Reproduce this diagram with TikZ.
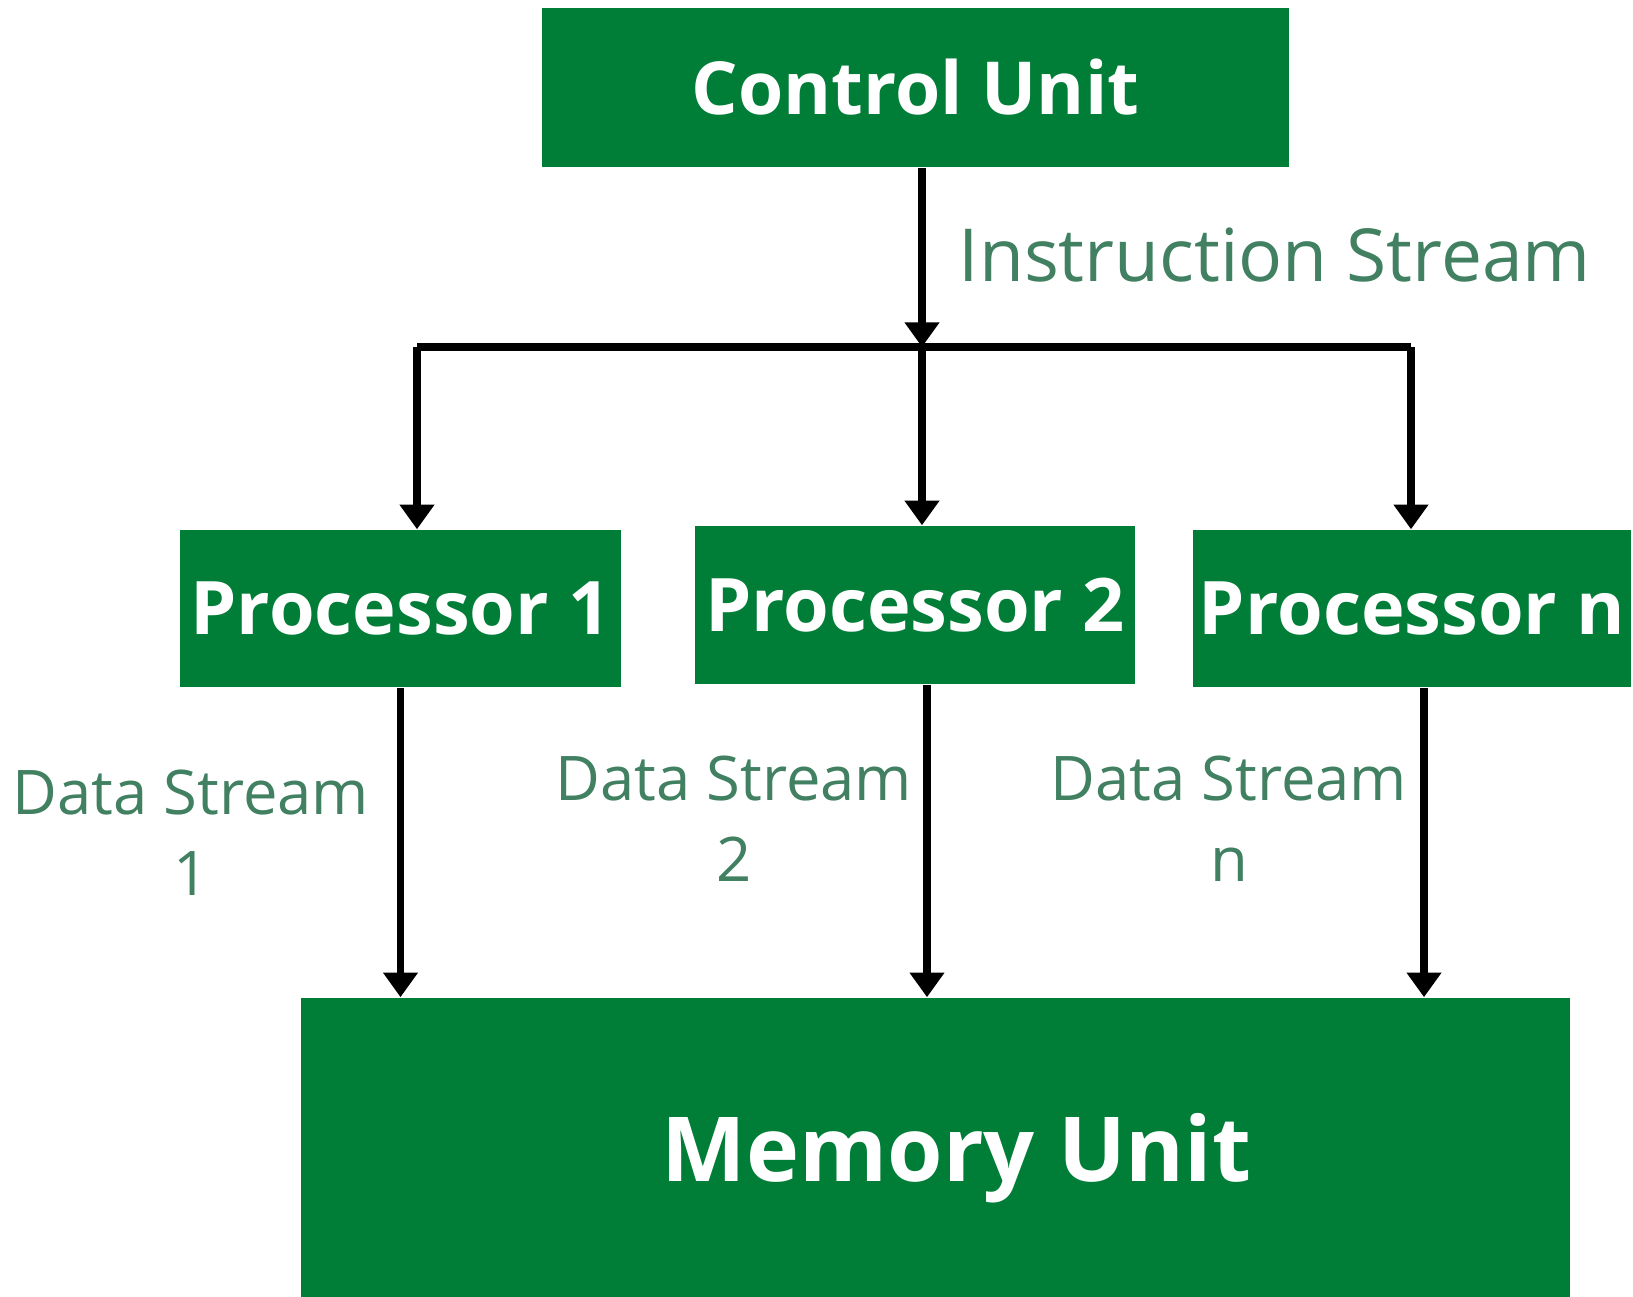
\documentclass[tikz,border=0pt]{standalone}
\usepackage{fontspec}
\setmainfont{Open Sans}
\usepackage{tikz}
\usetikzlibrary{arrows.meta}
\definecolor{unitgreen}{RGB}{0,125,55}
\definecolor{streamgreen}{RGB}{66,128,98}
\tikzset{%
    unitbox/.style={%
        draw=none, fill=unitgreen, text=white, inner sep=0pt,
        font=\bfseries\fontsize{21}{25}\selectfont
    },
    streamlabel/.style={%
        text=streamgreen, inner sep=0pt, align=center,
        font=\fontsize{17.5}{23}\selectfont
    },
    flow/.style={%
        line width=2.1pt, -{Triangle[width=9.5pt,length=7pt]}
    }
}

\begin{document}
\begin{tikzpicture}[x=0.01cm,y=-0.01cm]
    \useasboundingbox (0,0) rectangle (1633,1296);
    \node[unitbox, minimum width=7.47cm, minimum height=1.59cm,
        font=\bfseries\fontsize{20.8}{24}\selectfont] (cu) at (915.5,87.5) {Control Unit};
    \node[unitbox, minimum width=4.41cm, minimum height=1.57cm] (p1) at (400.5,608.5) {Processor 1};
    \node[unitbox, minimum width=4.40cm, minimum height=1.58cm] (p2) at (915,605) {Processor 2};
    \node[unitbox, minimum width=4.38cm, minimum height=1.57cm] (pn) at (1412,608.5) {Processor n};
    \node[unitbox, minimum width=12.69cm, minimum height=3.2cm,
        font=\bfseries\fontsize{25.5}{30}\selectfont] (mu) at (935.5,1158) {\hspace*{0.42cm}Memory Unit};
    % instruction stream
    \coordinate (split) at (922,347);
    \coordinate (b1) at (417,347);
    \coordinate (bn) at (1411,347);
    \draw[flow] (cu.south -| split) -- (split);
    \draw[line width=2.1pt] (b1) -- (bn);
    \draw[flow] (b1) -- (b1 |- p1.north);
    \draw[flow] (split) -- (split |- p2.north);
    \draw[flow] (bn) -- (bn |- pn.north);
    \node[streamlabel, anchor=base west, font=\fontsize{20.8}{24}\selectfont] (instr) at (958,281) {Instruction Stream};
    % data streams
    \draw[flow] (p1.south) -- (p1.south |- mu.north);
    \draw[flow] ([xshift=0.12cm]p2.south) -- ([xshift=0.12cm]p2.south |- mu.north);
    \draw[flow] ([xshift=0.12cm]pn.south) -- ([xshift=0.12cm]pn.south |- mu.north);
    \node[streamlabel, anchor=north] (ds1) at (191,769) {Data Stream\\1};
    \node[streamlabel, anchor=north] (ds2) at (734,755) {Data Stream\\2};
    \node[streamlabel, anchor=north] (dsn) at (1229,755) {Data Stream\\n};
\end{tikzpicture}
\end{document}
